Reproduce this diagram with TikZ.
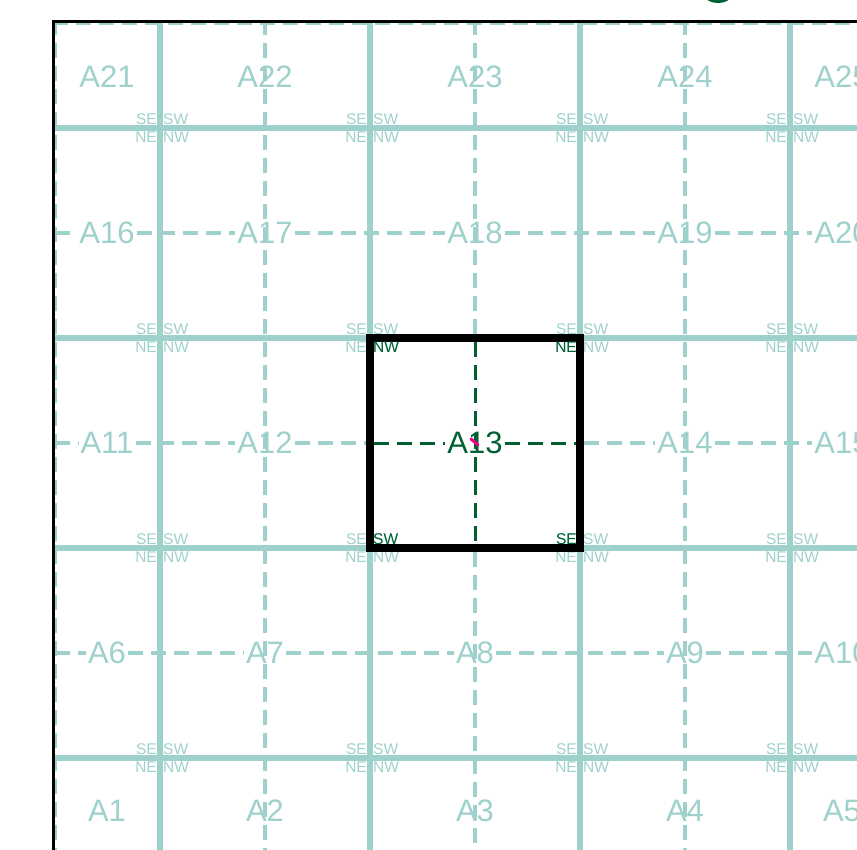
\documentclass[tikz,border=0pt]{standalone}
\usepackage{fontspec}
\setmainfont{Liberation Sans}
\definecolor{tl}{RGB}{158,208,204}
\definecolor{dg}{RGB}{0,96,50}
\begin{document}
\begin{tikzpicture}[x=1pt,y=-1pt,
  solidline/.style={tl,line width=5.2pt},
  dashline/.style={tl,line width=3.2pt,dash pattern=on 15pt off 8pt},
  greendash/.style={dg,line width=3pt,dash pattern=on 15pt off 8pt},
  cell/.style={text=tl,font=\fontsize{31}{31}\selectfont,inner sep=2pt},
  crn/.style={text=tl,font=\fontsize{15.5}{15.5}\selectfont,inner sep=0pt},
  frame/.style={black,line width=8.5pt},
]
\useasboundingbox (0,0) rectangle (857,850);
\clip (0,0) rectangle (857,850);
\fill[dg] (718,-4) ellipse [x radius=13, y radius=7];
\begin{scope}
\clip (53.5,21.5) rectangle (900,900);
% labels
\foreach \r/\y in {1/811,2/653,3/443,4/233,5/77}{
  \foreach \c/\x in {1/107,2/265,3/475,4/685,5/842}{
    \pgfmathtruncatemacro\n{(\r-1)*5+\c}
    \ifnum\n=13
      \node[cell,text=dg] (A\n) at (\x,\y) {A\n};
    \else
      \node[cell] (A\n) at (\x,\y) {A\n};
    \fi
  }
}
% dashed centre lines, vertical
\foreach \x in {55,265,685}{
  \draw[dashline] (\x,20) -- (\x,900);
}
\coordinate (vt) at (475,20);
\coordinate (vb) at (475,900);
\coordinate (ft) at (475,334);
\coordinate (fti) at (475,342);
\coordinate (fb) at (475,552);
\coordinate (fbi) at (475,544);
\draw[dashline] (vt) -- (ft);
\draw[dashline] (fb) -- (vb);
\draw[greendash] (fti) -- (fbi);
% dashed centre lines, horizontal
\draw[dashline] (53,23.5) -- (900,23.5);
\foreach \r/\y in {2/653,4/233}{
  \pgfmathtruncatemacro\a{(\r-1)*5+1}
  \pgfmathtruncatemacro\b{(\r-1)*5+2}
  \pgfmathtruncatemacro\c{(\r-1)*5+3}
  \pgfmathtruncatemacro\d{(\r-1)*5+4}
  \pgfmathtruncatemacro\e{(\r-1)*5+5}
  \coordinate (L\r) at (55,\y);
  \coordinate (R\r) at (900,\y);
  \draw[dashline] (L\r) -- (A\a) (A\a) -- (A\b) (A\b) -- (A\c) (A\c) -- (A\d) (A\d) -- (A\e) (A\e) -- (R\r);
}
\coordinate (L3) at (55,443);
\coordinate (R3) at (900,443);
\coordinate (fl) at (366,443);
\coordinate (fli) at (374,443);
\coordinate (fr) at (584,443);
\coordinate (fri) at (576,443);
\draw[dashline] (L3) -- (A11) (A11) -- (A12) (A12) -- (fl) (fr) -- (A14) (A14) -- (A15) (A15) -- (R3);
\draw[greendash] (fli) -- (A13) (A13) -- (fri);
% solid grid lines
\foreach \x in {160,370,580,790}{
  \draw[solidline] (\x,18) -- (\x,900);
}
\foreach \y in {128,338,548,758}{
  \draw[solidline] (50,\y) -- (900,\y);
}
% corner labels
\foreach \x in {160,370,580,790}{
  \foreach \y in {128,338,548,758}{
    \node[crn,anchor=south east] (se\x\y) at (\x-3,\y-3) {SE};
    \node[crn,anchor=south west] (sw\x\y) at (\x+3,\y-3) {SW};
    \node[crn,anchor=north east] (ne\x\y) at (\x-3,\y+4) {NE};
    \node[crn,anchor=north west] (nw\x\y) at (\x+3,\y+4) {NW};
  }
}
% highlighted cell
\draw[frame] (370,338) rectangle (580,548);
\node[crn,text=dg,anchor=north west] (gnw) at (373,342) {NW};
\node[crn,text=dg,anchor=north east] (gne) at (577,342) {NE};
\node[crn,text=dg,anchor=south west] (gsw) at (373,545) {SW};
\node[crn,text=dg,anchor=south east] (gse) at (577,545) {SE};
\draw[magenta,line width=3pt,line cap=round] (471,439) -- (478,445);
\end{scope}
\draw[black,line width=2.8pt] (53.5,900) -- (53.5,21.5) -- (900,21.5);
\end{tikzpicture}
\end{document}
